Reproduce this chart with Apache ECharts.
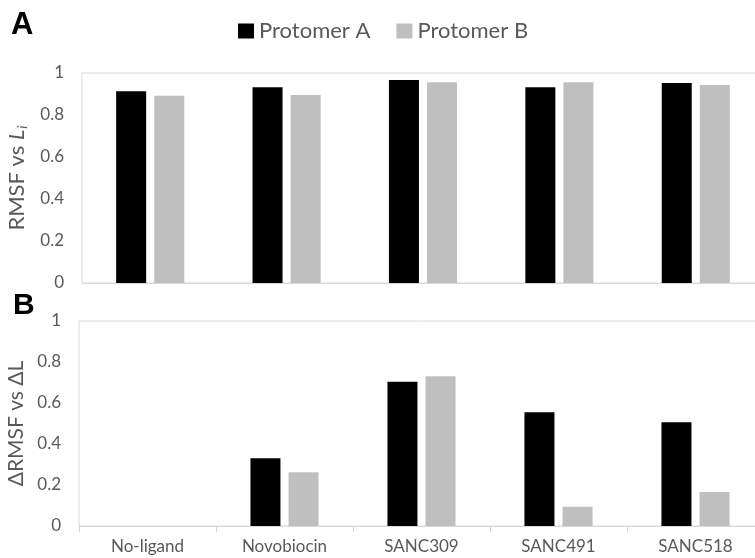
<!DOCTYPE html>
<html>
<head>
<meta charset="utf-8">
<script src="https://cdn.jsdelivr.net/npm/echarts@6/dist/echarts.min.js"></script>
<style>
  html, body { margin: 0; padding: 0; background: #fff; }
  #chart { width: 755px; height: 558px; }
</style>
</head>
<body>
<div id="chart"></div>
<script>
// categories (ligands)
const ligands = ["No-ligand", "Novobiocin", "SANC309", "SANC491", "SANC518"];
const seriesNames = ["Protomer A", "Protomer B"];

// panel A: RMSF vs L_i
const rmsfA = [0.913, 0.932, 0.967, 0.932, 0.952];
const rmsfB = [0.892, 0.895, 0.956, 0.956, 0.943];

// panel B: ΔRMSF vs ΔL
const dRmsfA = [0, 0.330, 0.704, 0.555, 0.506];
const dRmsfB = [0, 0.262, 0.730, 0.094, 0.166];

const yTicks = [0, 0.2, 0.4, 0.6, 0.8, 1];

const FONT = "Lato";
const GREY_TXT = "#595959";
const LINE = "#d9d9d9";
const colors = ["#000000", "#bfbfbf"];

const chart = echarts.init(document.getElementById("chart"));

const yAxisBase = {
  type: "value",
  min: yTicks[0],
  max: yTicks[yTicks.length - 1],
  interval: 0.2,
  splitLine: { show: false },
  axisLine: { show: false },
  axisTick: { show: false },
  axisLabel: {
    color: GREY_TXT,
    fontSize: 17,
    fontFamily: FONT,
    margin: 18,
    formatter: (v) => String(Math.round(v * 10) / 10),
  },
  nameLocation: "middle",
  nameRotate: 90,
};

const barBase = {
  type: "bar",
  barWidth: 30,
  barGap: "27%",
  animation: false,
};

const option = {
  animation: false,
  color: colors,
  textStyle: { fontFamily: FONT },
  legend: {
    data: seriesNames,
    top: 15,
    left: 233,
    itemWidth: 16,
    itemHeight: 15,
    itemGap: 26,
    icon: "rect",
    textStyle: { color: GREY_TXT, fontSize: 22, fontFamily: FONT },
  },
  graphic: [
    {
      type: "text",
      left: 11,
      top: 10,
      style: { text: "A", font: "bold 31px Arial", fill: "#000" },
    },
    {
      type: "text",
      left: 13,
      top: 291,
      style: { text: "B", font: "bold 30px Arial", fill: "#000" },
    },
  ],
  grid: [
    { left: 82, top: 73, height: 210, right: -9, show: true, borderColor: LINE, borderWidth: 1, outerBoundsMode: "none" },
    { left: 79, top: 321, height: 205, right: -9, show: true, borderColor: LINE, borderWidth: 1, outerBoundsMode: "none" },
  ],
  xAxis: [
    {
      type: "category",
      gridIndex: 0,
      data: ligands,
      axisLine: { lineStyle: { color: LINE } },
      axisTick: { show: false },
      axisLabel: { show: false },
    },
    {
      type: "category",
      gridIndex: 1,
      data: ligands,
      axisLine: { lineStyle: { color: LINE } },
      axisTick: { show: true, length: 6, lineStyle: { color: LINE } },
      axisLabel: { color: GREY_TXT, fontSize: 17, fontFamily: FONT, margin: 12 },
    },
  ],
  yAxis: [
    Object.assign({}, yAxisBase, {
      gridIndex: 0,
      name: "{n|RMSF vs }{i|L}{s|i}",
      nameGap: 50,
      nameTextStyle: {
        rich: {
          n: { fontSize: 22, color: GREY_TXT, fontFamily: FONT },
          i: { fontSize: 22, color: GREY_TXT, fontFamily: FONT, fontStyle: "italic" },
          s: { fontSize: 14, color: GREY_TXT, fontFamily: FONT, fontStyle: "italic", padding: [10, 0, 0, 1] },
        },
      },
    }),
    Object.assign({}, yAxisBase, {
      gridIndex: 1,
      name: "ΔRMSF vs ΔL",
      nameGap: 47,
      nameTextStyle: { fontSize: 21, color: GREY_TXT, fontFamily: FONT },
    }),
  ],
  series: [
    Object.assign({}, barBase, { name: seriesNames[0], xAxisIndex: 0, yAxisIndex: 0, data: rmsfA }),
    Object.assign({}, barBase, { name: seriesNames[1], xAxisIndex: 0, yAxisIndex: 0, data: rmsfB }),
    Object.assign({}, barBase, { name: seriesNames[0], xAxisIndex: 1, yAxisIndex: 1, data: dRmsfA }),
    Object.assign({}, barBase, { name: seriesNames[1], xAxisIndex: 1, yAxisIndex: 1, data: dRmsfB }),
  ],
};

chart.setOption(option);
</script>
</body>
</html>
